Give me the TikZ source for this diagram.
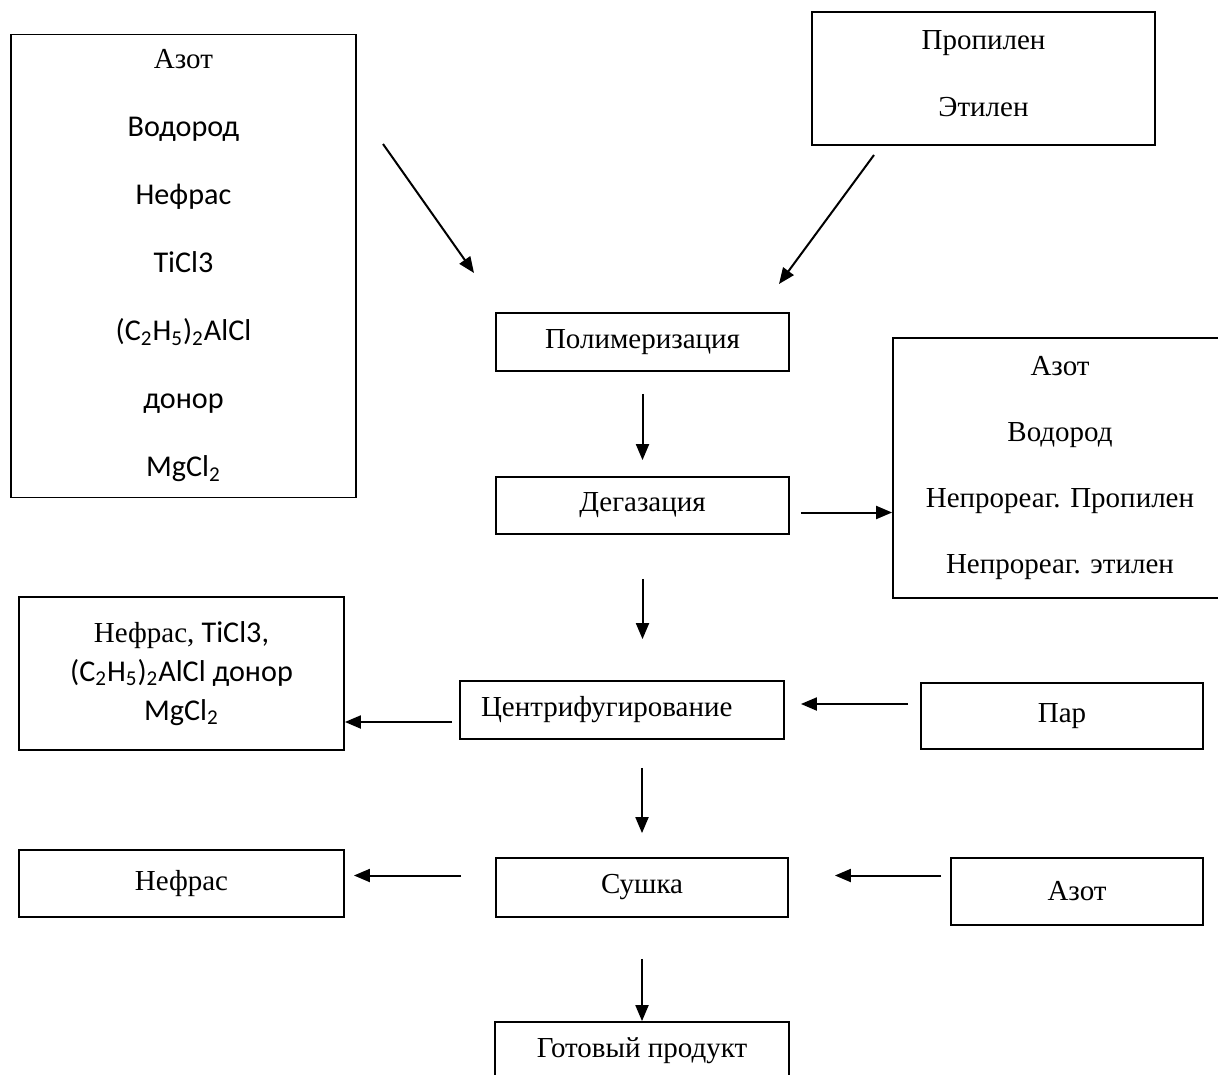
\documentclass[tikz,border=0pt]{standalone}
\usepackage{fontspec}
\setmainfont{Liberation Serif}
\newfontfamily\calfont{Carlito}[Scale=1.04]
\usetikzlibrary{arrows.meta}
\tikzset{>={Triangle[length=8pt,width=6.5pt]},
box/.style={draw, line width=0.9pt, inner sep=0pt, align=center,
  font=\fontsize{14.5}{34}\selectfont},
flow/.style={->, line width=1pt}}
\newcommand{\cb}[1]{{\calfont #1}}

\begin{document}
\begin{tikzpicture}[x=0.5pt,y=-0.5pt]
\useasboundingbox[fill=white] (0,0) rectangle (1218,1074);
% feeds
\node[box, minimum width=172.5pt, minimum height=231.5pt] (feed) at (183.5,266)
  {Азот\\\cb{Водород}\\\cb{Нефрас}\\\cb{TiCl3}\\
   \cb{(C\textsubscript{2}H\textsubscript{5})\textsubscript{2}AlCl}\\\cb{донор}\\
   \cb{MgCl\textsubscript{2}}};
\node[box, minimum width=171.5pt, minimum height=66.5pt,
  font=\fontsize{14.5}{33.5}\selectfont] (olef) at (983.5,78.5) {Пропилен\\Этилен\\[-29pt]};
% main line
\node[box, minimum width=146.5pt, minimum height=29pt] (pol) at (642.5,342) {Полимеризация};
\node[box, minimum width=146.5pt, minimum height=28.5pt] (deg) at (642.5,505.5) {Дегазация};
\node[box, minimum height=29pt, inner xsep=10.5pt, text width=141pt, align=left]
  (cen) at (622,710) {Центрифугирование};
\node[box, minimum width=146pt, minimum height=29.5pt] (dry) at (642,887.5) {Сушка};
\node[box, minimum width=147pt, minimum height=29pt] (prod) at (642,1051) {Готовый продукт};
% side streams
\node[box, minimum width=167pt, minimum height=130pt,
  font=\fontsize{14.5}{33}\selectfont] (gas) at (1060,468)
  {Азот\\Водород\\Непрореаг. Пропилен\\Непрореаг. этилен};
\node[box, minimum width=162.5pt, minimum height=76.5pt,
  font=\fontsize{14.5}{19.5}\selectfont] (rest) at (181.5,673.5)
  {Нефрас, \cb{TiCl3,}\\\cb{(C\textsubscript{2}H\textsubscript{5})\textsubscript{2}AlCl донор}\\
   \cb{MgCl\textsubscript{2}}};
\node[box, minimum width=141pt, minimum height=33pt] (steam) at (1062,716) {Пар};
\node[box, minimum width=162.5pt, minimum height=33.5pt] (nef) at (181.5,883.5) {Нефрас};
\node[box, minimum width=126pt, minimum height=33.5pt] (nit) at (1077,891.5) {Азот};
% free ends of the slanted feeds
\coordinate (f1) at (383,144);
\coordinate (f2) at (474,273);
\coordinate (o1) at (874,155);
\coordinate (o2) at (779,284);
\draw[flow] (f1) -- (f2);
\draw[flow] (o1) -- (o2);
\draw[flow, shorten <=11pt, shorten >=8pt] (pol) -- (deg);
\draw[flow, shorten <=5.5pt] ([yshift=-3.5pt]deg.east) -- ([yshift=-3.5pt]deg.east -| gas.west);
\draw[flow, shorten <=22pt, shorten >=20.5pt] (deg.south) -- (deg.south |- cen.north);
\draw[flow, shorten <=3.5pt] ([yshift=-6pt]cen.west) -- ([yshift=-6pt]cen.west -| rest.east);
\draw[flow, shorten <=6pt, shorten >=8pt] ([yshift=3pt]cen.east -| steam.west) -- ([yshift=3pt]cen.east);
\draw[flow, shorten <=14pt, shorten >=12pt] (dry.north |- cen.south) -- (dry.north);
\draw[flow, shorten <=17pt, shorten >=4.5pt] ([yshift=6pt]dry.west) -- ([yshift=6pt]dry.west -| nef.east);
\draw[flow, shorten <=4.5pt, shorten >=23pt] ([yshift=6pt]dry.east -| nit.west) -- ([yshift=6pt]dry.east);
\draw[flow, shorten <=20.5pt] (dry.south) -- (prod.north);
\end{tikzpicture}
\end{document}
